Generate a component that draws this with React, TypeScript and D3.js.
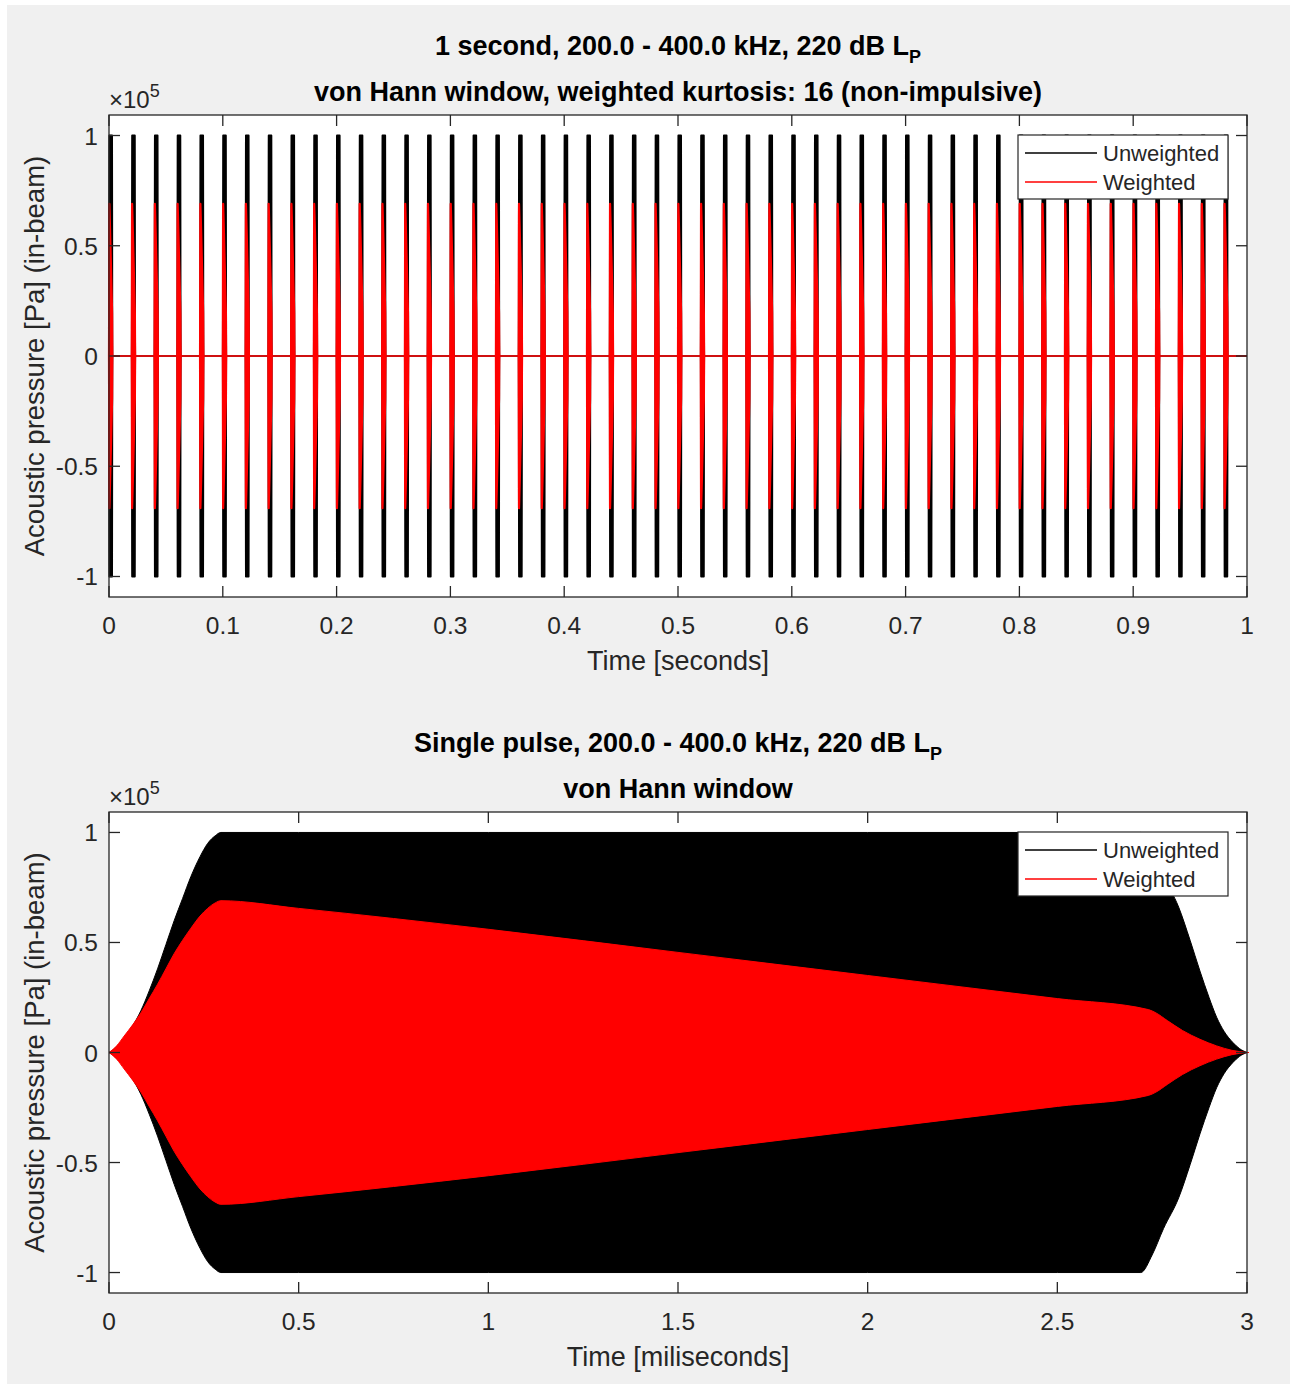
import React from "react";
import * as d3 from "d3";

// ---------- data ----------
const pulseStartsS = [
  0, 0.02, 0.04, 0.06, 0.08, 0.1, 0.12, 0.14, 0.16, 0.18,
  0.2, 0.22, 0.24, 0.26, 0.28, 0.3, 0.32, 0.34, 0.36, 0.38,
  0.4, 0.42, 0.44, 0.46, 0.48, 0.5, 0.52, 0.54, 0.56, 0.58,
  0.6, 0.62, 0.64, 0.66, 0.68, 0.7, 0.72, 0.74, 0.76, 0.78,
  0.8, 0.82, 0.84, 0.86, 0.88, 0.9, 0.92, 0.94, 0.96, 0.98,
];

// envelope of the unweighted pulse (ms, x1e5 Pa)
const unweightedTimeMs = [0, 0.02, 0.04, 0.062, 0.084, 0.106, 0.128, 0.15, 0.172, 0.194, 0.216, 0.24, 0.26, 0.28, 0.295, 0.5, 1.0, 1.5, 2.0, 2.5, 2.72, 2.75, 2.78, 2.82, 2.85, 2.876, 2.9, 2.92, 2.94, 2.963, 2.98, 3.0];
const unweightedAmp = [0, 0.025, 0.065, 0.12, 0.19, 0.28, 0.38, 0.49, 0.6, 0.7, 0.8, 0.89, 0.95, 0.985, 1.0, 1.0, 1.0, 1.0, 1.0, 1.0, 1.0, 0.92, 0.8, 0.66, 0.51, 0.37, 0.25, 0.16, 0.095, 0.045, 0.018, 0];

// envelope of the weighted pulse (ms, x1e5 Pa)
const weightedTimeMs = [0, 0.02, 0.04, 0.062, 0.084, 0.106, 0.128, 0.15, 0.172, 0.194, 0.216, 0.24, 0.26, 0.28, 0.295, 0.5, 1.0, 1.5, 2.0, 2.5, 2.74, 2.76, 2.79, 2.83, 2.876, 2.92, 2.96, 3.0];
const weightedAmp = [0, 0.03, 0.075, 0.125, 0.18, 0.245, 0.31, 0.38, 0.45, 0.51, 0.565, 0.62, 0.655, 0.68, 0.69, 0.655, 0.56, 0.455, 0.35, 0.245, 0.195, 0.18, 0.145, 0.1, 0.06, 0.03, 0.01, 0];

const topXTicks = [0, 0.1, 0.2, 0.3, 0.4, 0.5, 0.6, 0.7, 0.8, 0.9, 1];
const topXTickLabels = ["0", "0.1", "0.2", "0.3", "0.4", "0.5", "0.6", "0.7", "0.8", "0.9", "1"];
const bottomXTicks = [0, 0.5, 1, 1.5, 2, 2.5, 3];
const bottomXTickLabels = ["0", "0.5", "1", "1.5", "2", "2.5", "3"];
const yTicks = [-1, -0.5, 0, 0.5, 1];
const yTickLabels = ["-1", "-0.5", "0", "0.5", "1"];
const legendLabels = ["Unweighted", "Weighted"];
const seriesColors = ["#000000", "#ff0000"];

const topTitle1 = "1 second, 200.0 - 400.0 kHz, 220 dB L";
const topTitle2 = "von Hann window, weighted kurtosis: 16 (non-impulsive)";
const bottomTitle1 = "Single pulse, 200.0 - 400.0 kHz, 220 dB L";
const bottomTitle2 = "von Hann window";
const yLabel = "Acoustic pressure [Pa] (in-beam)";
const topXLabel = "Time [seconds]";
const bottomXLabel = "Time [miliseconds]";

// ---------- layout ----------
const W = 1290;
const H = 1387;
const LEFT = 109;
const RIGHT = 1247;
const FONT = "'Liberation Sans', Arial, Helvetica, sans-serif";
const AX = "#262626";
const TICK = 11;

type Pt = [number, number];
const unweightedPts: Pt[] = unweightedTimeMs.map((t, i) => [t, unweightedAmp[i]]);
const weightedPts: Pt[] = weightedTimeMs.map((t, i) => [t, weightedAmp[i]]);

function Frame({ top, bottom, xs, ys, xTicks, xLabels, title1, title2, xLabel }: any) {
  const midY = (top + bottom) / 2;
  const midX = (LEFT + RIGHT) / 2;
  return (
    <g>
      <rect x={LEFT} y={top} width={RIGHT - LEFT} height={bottom - top} fill="none" stroke={AX} strokeWidth={1.3} />
      {xTicks.map((t: number, i: number) => (
        <g key={"xt" + i}>
          <line x1={xs(t)} x2={xs(t)} y1={bottom} y2={bottom - TICK} stroke={AX} strokeWidth={1.3} />
          <line x1={xs(t)} x2={xs(t)} y1={top} y2={top + TICK} stroke={AX} strokeWidth={1.3} />
          <text x={xs(t)} y={bottom + 37} textAnchor="middle" fontSize={24.5} fill={AX} fontFamily={FONT}>
            {xLabels[i]}
          </text>
        </g>
      ))}
      {yTicks.map((t, i) => (
        <g key={"yt" + i}>
          <line x1={LEFT} x2={LEFT + TICK} y1={ys(t)} y2={ys(t)} stroke={AX} strokeWidth={1.3} />
          <line x1={RIGHT} x2={RIGHT - TICK} y1={ys(t)} y2={ys(t)} stroke={AX} strokeWidth={1.3} />
          <text x={98} y={ys(t) + 9} textAnchor="end" fontSize={24.5} fill={AX} fontFamily={FONT}>
            {yTickLabels[i]}
          </text>
        </g>
      ))}
      <text x={109} y={top - 7} fontSize={24} fill={AX} fontFamily={FONT}>
        {"\u00d710"}
        <tspan dy={-11} fontSize={18}>5</tspan>
      </text>
      <text x={midX} y={top - 60} textAnchor="middle" fontSize={27} fontWeight="bold" fill="#000" fontFamily={FONT}>
        {title1}
        <tspan dy={8} fontSize={18}>P</tspan>
      </text>
      <text x={midX} y={top - 14} textAnchor="middle" fontSize={27} fontWeight="bold" fill="#000" fontFamily={FONT}>
        {title2}
      </text>
      <text x={midX} y={bottom + 73} textAnchor="middle" fontSize={27} fill={AX} fontFamily={FONT}>
        {xLabel}
      </text>
      <text transform={`translate(44,${midY}) rotate(-90)`} textAnchor="middle" fontSize={27.5} fill={AX} fontFamily={FONT}>
        {yLabel}
      </text>
      <g>
        <rect x={1018} y={top + 20} width={210} height={64} fill="#fff" stroke={AX} strokeWidth={1.2} />
        {legendLabels.map((l, i) => (
          <g key={l}>
            <line x1={1025} x2={1097} y1={top + 38 + i * 29} y2={top + 38 + i * 29} stroke={seriesColors[i]} strokeWidth={1.3} />
            <text x={1103} y={top + 46 + i * 29} fontSize={22} fill={AX} fontFamily={FONT}>
              {l}
            </text>
          </g>
        ))}
      </g>
    </g>
  );
}

export default function App() {
  // top panel
  const tTop = 115, tBot = 597;
  const xsTop = d3.scaleLinear().domain([0, 1]).range([LEFT, RIGHT]);
  const ysTop = d3.scaleLinear().domain([-1.093, 1.093]).range([tBot, tTop]);
  // bottom panel
  const bTop = 812, bBot = 1293;
  const xsBot = d3.scaleLinear().domain([0, 3]).range([LEFT, RIGHT]);
  const ysBot = d3.scaleLinear().domain([-1.093, 1.093]).range([bBot, bTop]);

  const pulseArea = (start: number) =>
    d3
      .area<Pt>()
      .x((d) => xsTop(start + d[0] / 1000))
      .y0((d) => ysTop(-d[1]))
      .y1((d) => ysTop(d[1]));

  const botArea = d3
    .area<Pt>()
    .x((d) => xsBot(d[0]))
    .y0((d) => ysBot(-d[1]))
    .y1((d) => ysBot(d[1]))
    .curve(d3.curveMonotoneX);

  return (
    <svg width={W} height={H} style={{ position: "absolute", left: 0, top: 0 }} xmlns="http://www.w3.org/2000/svg">
      <rect x={0} y={0} width={W} height={H} fill="#fff" />
      <rect x={7} y={5} width={W - 7} height={1379} fill="#f0f0f0" />
      {/* top axes */}
      <rect x={LEFT} y={tTop} width={RIGHT - LEFT} height={tBot - tTop} fill="#fff" />
      <line x1={LEFT} x2={RIGHT} y1={ysTop(0)} y2={ysTop(0)} stroke={seriesColors[0]} strokeWidth={1.3} />
      {pulseStartsS.map((s, i) => (
        <path key={"u" + i} d={pulseArea(s)(unweightedPts) || ""} fill={seriesColors[0]} stroke={seriesColors[0]} strokeWidth={1.8} strokeLinejoin="round" />
      ))}
      <line x1={LEFT} x2={RIGHT} y1={ysTop(0)} y2={ysTop(0)} stroke={seriesColors[1]} strokeWidth={1.3} />
      {pulseStartsS.map((s, i) => (
        <path key={"w" + i} d={pulseArea(s)(weightedPts) || ""} fill={seriesColors[1]} stroke={seriesColors[1]} strokeWidth={2.2} strokeLinejoin="round" />
      ))}
      {/* bottom axes */}
      <rect x={LEFT} y={bTop} width={RIGHT - LEFT} height={bBot - bTop} fill="#fff" />
      <path d={botArea(unweightedPts) || ""} fill={seriesColors[0]} stroke={seriesColors[0]} strokeWidth={1} />
      <path d={botArea(weightedPts) || ""} fill={seriesColors[1]} stroke={seriesColors[1]} strokeWidth={1} />
      <line x1={LEFT} x2={RIGHT + 2} y1={ysBot(0)} y2={ysBot(0)} stroke={seriesColors[1]} strokeWidth={1} />

      <Frame top={tTop} bottom={tBot} xs={xsTop} ys={ysTop} xTicks={topXTicks} xLabels={topXTickLabels}
        title1={topTitle1} title2={topTitle2} xLabel={topXLabel} />
      <Frame top={bTop} bottom={bBot} xs={xsBot} ys={ysBot} xTicks={bottomXTicks} xLabels={bottomXTickLabels}
        title1={bottomTitle1} title2={bottomTitle2} xLabel={bottomXLabel} />
    </svg>
  );
}
